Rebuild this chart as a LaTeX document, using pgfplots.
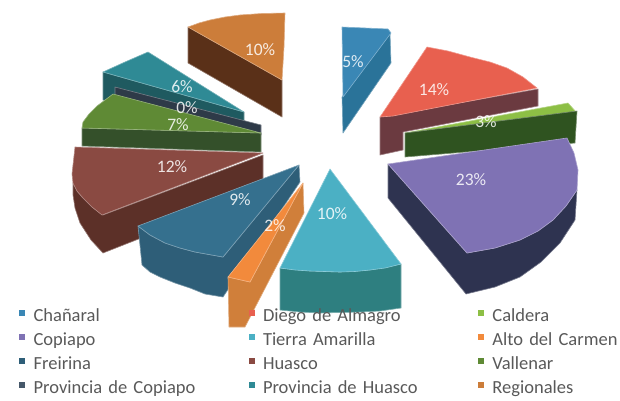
\documentclass[border=0pt]{standalone}
\usepackage{fontspec}
\setmainfont{Carlito}
\usepackage{pgfplots}
\pgfplotsset{compat=1.18}

\definecolor{chanT}{HTML}{3A87B5}\definecolor{chanS}{HTML}{2A7399}
\definecolor{diegoT}{HTML}{E8604F}\definecolor{diegoS}{HTML}{6B3A40}
\definecolor{caldT}{HTML}{8DBF45}\definecolor{caldS}{HTML}{2F5320}
\definecolor{copiT}{HTML}{7F72B4}\definecolor{copiS}{HTML}{2E3350}
\definecolor{tierT}{HTML}{4BB0C4}\definecolor{tierS}{HTML}{2E7F80}
\definecolor{altoT}{HTML}{F28A3C}\definecolor{altoS}{HTML}{D07F3A}
\definecolor{freiT}{HTML}{35708E}\definecolor{freiS}{HTML}{2E5E78}
\definecolor{huasT}{HTML}{8A4A42}\definecolor{huasS}{HTML}{5C3028}
\definecolor{vallT}{HTML}{5F8A35}\definecolor{vallS}{HTML}{34502A}
\definecolor{pcopT}{HTML}{46586A}\definecolor{pcopS}{HTML}{2E3A48}
\definecolor{phuaT}{HTML}{2F8A95}\definecolor{phuaS}{HTML}{1F5A60}
\definecolor{regiT}{HTML}{CC7D3A}\definecolor{regiS}{HTML}{5A3018}

% one face of a slice, coordinates in picture pixels
\newcommand{\face}[2]{\addplot[fill=#1,draw=#1!65!white,line width=.6pt,line join=round,forget plot] coordinates {#2} --cycle;}
\newcommand{\pct}[3]{\node[text=white,opacity=.85,font=\fontsize{17.5}{17.5}\selectfont] at (axis cs:#1,#2) {#3};}

\begin{document}
\begin{tikzpicture}
\begin{axis}[
	scale only axis,
	width=620pt,
	height=400pt,
	xmin=0, xmax=620,
	ymin=0, ymax=400,
	y dir=reverse,
	axis lines=none,
	clip=false,
	legend columns=3,
	legend cell align=left,
	legend image code/.code={\fill[#1] (-2.5pt,1.5pt) rectangle (2.5pt,6.5pt);},
	legend style={
		at={(axis cs:19,304)},
		anchor=north west,
		draw=none,
		fill=none,
		inner sep=0pt,
		row sep=0pt,
		font=\fontsize{18.5}{18.5}\selectfont,
		text=black!65,
		nodes={inner sep=0pt,text height=17pt,text depth=7pt},
		/tikz/every odd column/.append style={column sep=9pt},
		/tikz/every even column/.append style={text width=215pt},
	},
]
\addlegendimage{chanT}\addlegendentry{Chañaral}
\addlegendimage{diegoT}\addlegendentry{Diego de Almagro}
\addlegendimage{caldT}\addlegendentry{Caldera}
\addlegendimage{copiT}\addlegendentry{Copiapo}
\addlegendimage{tierT}\addlegendentry{Tierra Amarilla}
\addlegendimage{altoT}\addlegendentry{Alto del Carmen}
\addlegendimage{freiS}\addlegendentry{Freirina}
\addlegendimage{huasT}\addlegendentry{Huasco}
\addlegendimage{vallT}\addlegendentry{Vallenar}
\addlegendimage{pcopT}\addlegendentry{Provincia de Copiapo}
\addlegendimage{phuaT}\addlegendentry{Provincia de Huasco}
\addlegendimage{regiT}\addlegendentry{Regionales}

% Regionales
\face{regiS}{(188,27) (282,80) (282,117) (188,63)}
\face{regiT}{(188,27) (199,23) (210,20) (225,17) (240,15) (262,13.5) (285,13) (284,47) (282,80)}
% Provincia de Huasco
\face{phuaS}{(103,72) (244,112) (244,122) (103,100)}
\face{phuaT}{(103,72) (125,62) (148,52) (244,112)}
% Provincia de Copiapo
\face{pcopS}{(115,87) (261,125) (261,135) (115,100)}
% Vallenar
\face{vallS}{(82,128) (261,133) (261,152) (82,146)}
\face{vallT}{(82,128) (83,122) (89,114) (97,106) (105,100) (113,94) (261,133)}
% Huasco
\face{huasS}{(73,183) (77,191) (83,198) (92,207) (103,215) (263,155) (263,190) (103,253) (91,240) (80,223) (75,208) (73,195)}
\face{huasT}{(75,147) (263,153) (102,215) (92,207) (83,198) (77,191) (73,183) (72,174) (73,165)}
% Freirina
\face{freiS}{(138,226) (150,235) (165,243) (180,248) (195,252) (223,257) (299,165) (300,182) (223,297) (205,294) (190,288) (175,283) (160,277) (150,272) (142,265)}
\face{freiT}{(299,165) (138,226) (150,235) (165,243) (180,248) (195,252) (223,257)}
% Alto del Carmen
\face{altoS}{(228,277) (250,282) (303,183) (304,213) (245,327) (229,327)}
\face{altoT}{(303,183) (228,277) (250,282)}
% Tierra Amarilla
\face{tierS}{(280,268) (310,271) (340,272) (370,270) (401,264) (401,308) (380,311) (360,312) (320,313) (300,312) (280,310)}
\face{tierT}{(330,169) (280,268) (295,270) (310,271) (340,272) (355,271.5) (370,270) (385,268) (401,264)}
% Chañaral
\face{chanS}{(342,97) (390,33) (391,63) (343,133)}
\face{chanT}{(342,27) (388,29) (391,33) (343,97)}
% Diego de Almagro
\face{diegoS}{(380,117) (538,89) (538,106) (403,132) (403,150) (380,155)}
\face{diegoT}{(393,116) (380,117) (427,47) (448,51) (470,57) (490,62) (507,68) (523,77) (537,88)}
% Caldera
\face{caldT}{(405,133) (568,103) (577,113)}
\face{caldS}{(405,133) (577,111) (575,143) (405,157)}
% Copiapo
\face{copiS}{(388,164) (467,253) (495,248) (520,240) (538,231) (553,220) (566,206) (577,190) (575,220) (560,243) (541,262) (520,277) (495,287) (466,294) (388,198)}
\face{copiT}{(388,164) (567,138) (574,153) (578,170) (577,190) (566,206) (553,220) (538,231) (520,240) (495,248) (467,253)}

\pct{260}{50}{10\%}
\pct{182}{87}{6\%}
\pct{187}{108}{0\%}
\pct{178}{125}{7\%}
\pct{172}{167}{12\%}
\pct{240}{200}{9\%}
\pct{275}{226}{2\%}
\pct{332}{214}{10\%}
\pct{353}{62}{5\%}
\pct{434}{90}{14\%}
\pct{486}{122}{3\%}
\pct{471}{180}{23\%}
\end{axis}
\pgfresetboundingbox
\path[use as bounding box] (0,0) rectangle (620pt,400pt);
\end{tikzpicture}
\end{document}
